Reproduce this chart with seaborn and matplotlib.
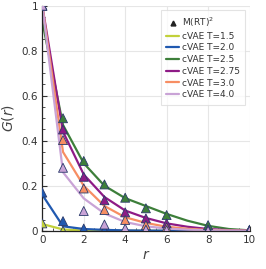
import numpy as np
import pandas as pd
import matplotlib
matplotlib.use("Agg")
import matplotlib.pyplot as plt
import seaborn as sns
from matplotlib.lines import Line2D
from matplotlib.ticker import AutoMinorLocator

temps = ["1.5", "2.0", "2.5", "2.75", "3.0", "4.0"]
colors = ["#c2d13a", "#2059b0", "#3d7f3a", "#8e1b86", "#f78e63", "#c9a3d6"]

# M(RT)^2 reference points
r_pts = [0, 1, 2, 3, 4, 5, 6, 8, 10]
g_mrt = {
    "1.5": [0.033, 0.0, 0.0, 0.0, 0.0, 0.0, 0.0, 0.0, 0.0],
    "2.0": [0.17, 0.043, 0.01, 0.003, 0.002, 0.001, 0.001, 0.0, 0.0],
    "2.5": [1.0, 0.50, 0.31, 0.206, 0.147, 0.10, 0.07, 0.025, 0.005],
    "2.75": [1.0, 0.45, 0.24, 0.136, 0.082, 0.055, 0.033, 0.006, 0.002],
    "3.0": [1.0, 0.403, 0.188, 0.092, 0.048, 0.025, 0.015, 0.003, 0.001],
    "4.0": [1.0, 0.28, 0.088, 0.028, 0.01, 0.005, 0.003, 0.001, 0.0],
}

# cVAE curves
r_line = [0, 1, 2, 3, 4, 5, 6, 7, 8, 9, 10]
g_cvae = {
    "1.5": [0.03, 0.006, 0.001, 0, 0, 0, 0, 0, 0, 0, 0],
    "2.0": [0.16, 0.02, 0.008, 0.004, 0.002, 0.001, 0.001, 0, 0, 0, 0],
    "2.5": [0.93, 0.47, 0.30, 0.20, 0.145, 0.11, 0.075, 0.045, 0.022, 0.008, 0.002],
    "2.75": [1.0, 0.44, 0.25, 0.15, 0.09, 0.057, 0.033, 0.018, 0.008, 0.003, 0.001],
    "3.0": [1.0, 0.35, 0.20, 0.11, 0.06, 0.035, 0.018, 0.009, 0.004, 0.001, 0.0],
    "4.0": [1.0, 0.26, 0.144, 0.077, 0.039, 0.02, 0.01, 0.005, 0.002, 0.001, 0.0],
}

lines_df = pd.DataFrame(
    [(r, g, t) for t in temps for r, g in zip(r_line, g_cvae[t])],
    columns=["r", "G", "T"])
pts_df = pd.DataFrame(
    [(r, g, t) for t in temps for r, g in zip(r_pts, g_mrt[t])],
    columns=["r", "G", "T"])
palette = dict(zip(temps, colors))

sns.set_style("ticks")
plt.rcParams["font.family"] = ["DejaVu Sans"]

fig = plt.figure(figsize=(2.66, 2.69), dpi=100)
ax = fig.add_axes([0.159, 0.142, 0.779, 0.837])

sns.lineplot(data=lines_df, x="r", y="G", hue="T", palette=palette,
             linewidth=1.6, legend=False, ax=ax, zorder=2)
sns.scatterplot(data=pts_df, x="r", y="G", hue="T", palette=palette,
                marker="^", s=42, edgecolor="#2b3a6b", linewidth=0.6,
                legend=False, ax=ax, zorder=3)

ax.set_xlim(0, 10)
ax.set_ylim(0, 1)
ax.set_xticks([0, 2, 4, 6, 8, 10])
ax.set_yticks([0, 0.2, 0.4, 0.6, 0.8, 1.0])
ax.set_yticklabels(["0", "0.2", "0.4", "0.6", "0.8", "1"])
ax.xaxis.set_minor_locator(AutoMinorLocator(4))
ax.yaxis.set_minor_locator(AutoMinorLocator(4))
ax.tick_params(which="major", direction="in", length=3.5, width=0.8,
               labelsize=7.5, colors="#333333", pad=3)
ax.tick_params(which="minor", direction="in", length=2.2, width=0.6,
               colors="#333333")
ax.grid(True, which="major", color="#e6e6e6", linewidth=0.8)
ax.set_axisbelow(True)
for s in ["top", "right"]:
    ax.spines[s].set_visible(False)
for s in ["left", "bottom"]:
    ax.spines[s].set_color("#222222")
    ax.spines[s].set_linewidth(0.9)

ax.set_xlabel("$r$", fontsize=10, color="#444444", labelpad=2)
ax.set_ylabel("$G(r)$", fontsize=10, color="#444444", labelpad=4)

handles = [Line2D([], [], marker="^", color="#222222", linestyle="none",
                  markersize=3.5, label="M(RT)$^2$")]
for t, c in zip(temps, colors):
    handles.append(Line2D([], [], color=c, linewidth=1.6, label=f"cVAE T={t}"))
leg = ax.legend(handles=handles, loc="upper right", bbox_to_anchor=(1.0, 1.0),
                fontsize=6.5, frameon=True, handlelength=1.4, handletextpad=0.3,
                labelspacing=0.3, borderpad=0.6, fancybox=False,
                labelcolor="#333333")
leg.get_frame().set_edgecolor("#dddddd")
leg.get_frame().set_linewidth(0.8)

fig.savefig("out.png", dpi=100)
